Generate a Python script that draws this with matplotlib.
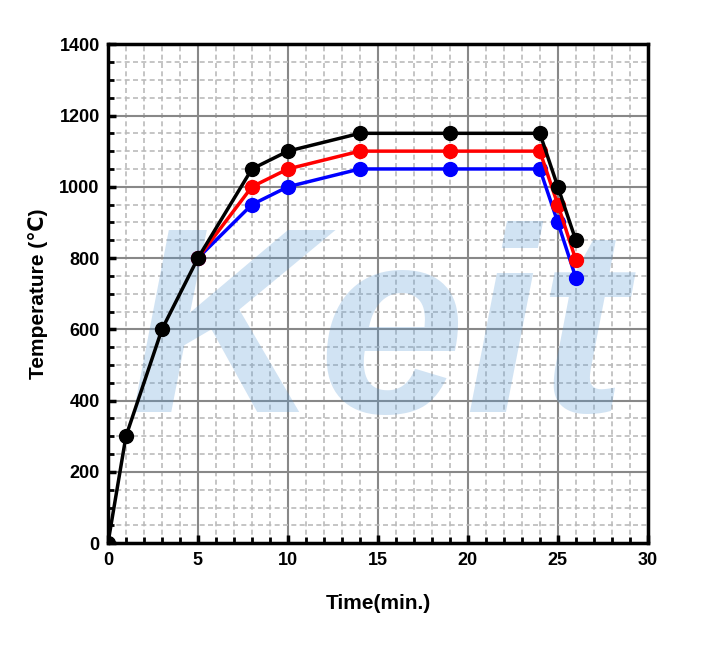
import matplotlib
matplotlib.use("Agg")
import matplotlib.pyplot as plt
from matplotlib.ticker import MultipleLocator

plt.rcParams['font.family'] = ['Liberation Sans', 'DejaVu Sans']

# heating profiles
time_black = [0, 1, 3, 5, 8, 10, 14, 19, 24, 25, 26]
temp_black = [0, 300, 600, 800, 1050, 1100, 1150, 1150, 1150, 1000, 850]
time_red = [5, 8, 10, 14, 19, 24, 25, 26]
temp_red = [800, 1000, 1050, 1100, 1100, 1100, 950, 795]
time_blue = [5, 8, 10, 14, 19, 24, 25, 26]
temp_blue = [800, 950, 1000, 1050, 1050, 1050, 900, 745]

fig = plt.figure(figsize=(7.15, 6.6), dpi=100)
ax = fig.add_axes([0.151, 0.177, 0.755, 0.756])

# watermark
ax.text(15, 560, "Keit", fontsize=190, fontstyle="italic", fontweight="bold",
        color="#5b9bd5", alpha=0.28, ha="center", va="center", zorder=1)

ax.plot(time_blue, temp_blue, "-o", color="blue", lw=2.5, ms=10, zorder=3)
ax.plot(time_red, temp_red, "-o", color="red", lw=2.5, ms=10, zorder=4)
ax.plot(time_black, temp_black, "-o", color="black", lw=2.5, ms=10, zorder=5)

ax.set_xlim(0, 30)
ax.set_ylim(0, 1400)
ax.xaxis.set_major_locator(MultipleLocator(5))
ax.xaxis.set_minor_locator(MultipleLocator(1))
ax.yaxis.set_major_locator(MultipleLocator(200))
ax.yaxis.set_minor_locator(MultipleLocator(50))
ax.grid(which="major", color="#888888", lw=1.5)
ax.grid(which="minor", color="#bbbbbb", lw=1.2, ls=(0, (3, 2)))
ax.set_axisbelow(True)

ax.tick_params(which="major", direction="in", length=6, width=2.5,
               labelsize=13, pad=6)
ax.tick_params(which="minor", direction="in", length=4, width=2)
for lab in ax.get_xticklabels() + ax.get_yticklabels():
    lab.set_fontweight("bold")
for sp in ax.spines.values():
    sp.set_linewidth(2.5)

ax.set_xlabel("Time(min.)", fontsize=15, fontweight="bold", labelpad=18)
ax.set_ylabel("Temperature (\u2103)", fontsize=15, fontweight="bold", labelpad=8)

fig.savefig("out.png", dpi=100)
